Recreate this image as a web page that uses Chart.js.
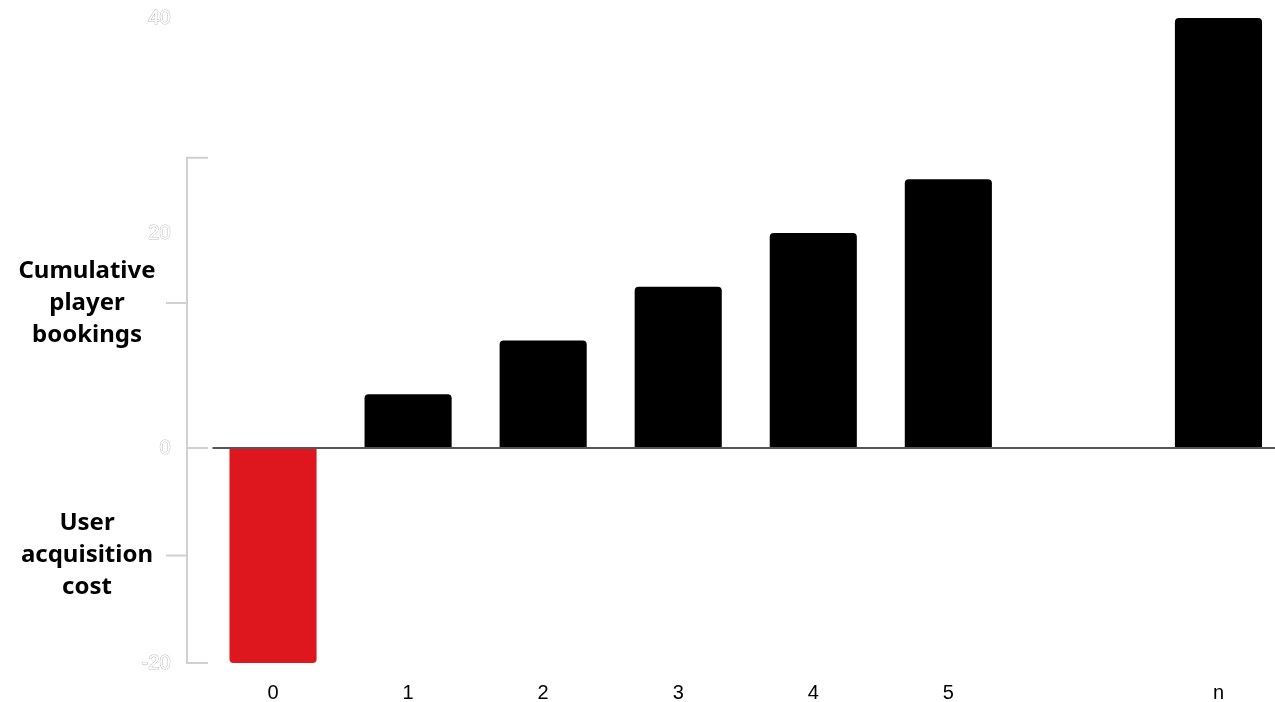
<!DOCTYPE html>
<html>
<head>
<meta charset="utf-8">
<script src="https://cdn.jsdelivr.net/npm/chart.js@4"></script>
<style>
    html, body { margin: 0; padding: 0; background: #fff; overflow: hidden; }
</style>
</head>
<body>
<canvas id="myChart" width="1286" height="702"></canvas>
<script>
// chart data
const categories = ['0', '1', '2', '3', '4', '5', '', 'n'];
const values = [-20, 5, 10, 15, 20, 25, null, 40];
const barColors = ['#dd171d', '#000000', '#000000', '#000000', '#000000', '#000000', '#000000', '#000000'];
const yMin = -20;
const yMax = 40;
const yStep = 20;

// side bracket and its labels (values on the y scale)
const bracketTop = 27;
const bracketMarks = [13.5, -10];
const sideLabels = [
    ['Cumulative', 'player', 'bookings'],
    ['User', 'acquisition', 'cost']
];

const bracketPlugin = {
    id: 'bracket',
    afterDraw(chart) {
        const ctx = chart.ctx;
        const y = chart.scales.y;
        const area = chart.chartArea;
        const bx = area.left - 18.5;
        ctx.save();
        // zero line
        ctx.strokeStyle = '#555555';
        ctx.lineWidth = 2;
        ctx.beginPath();
        ctx.moveTo(area.left + 7, y.getPixelForValue(0));
        ctx.lineTo(chart.width, y.getPixelForValue(0));
        ctx.stroke();

        // bracket
        ctx.strokeStyle = '#d0d0d0';
        ctx.lineWidth = 2;
        ctx.beginPath();
        ctx.moveTo(bx + 21, y.getPixelForValue(bracketTop));
        ctx.lineTo(bx, y.getPixelForValue(bracketTop));
        ctx.lineTo(bx, y.getPixelForValue(yMin));
        ctx.lineTo(bx + 21, y.getPixelForValue(yMin));
        ctx.moveTo(bx, y.getPixelForValue(0));
        ctx.lineTo(bx + 21, y.getPixelForValue(0));
        bracketMarks.forEach(v => {
            ctx.moveTo(bx, y.getPixelForValue(v));
            ctx.lineTo(bx - 21, y.getPixelForValue(v));
        });
        ctx.stroke();

        // labels
        ctx.fillStyle = '#000';
        ctx.font = 'bold 24px "Noto Sans", sans-serif';
        ctx.textAlign = 'center';
        ctx.textBaseline = 'middle';
        sideLabels.forEach((lines, i) => {
            const cy = y.getPixelForValue(bracketMarks[i]);
            lines.forEach((t, j) => {
                ctx.fillText(t, 87, cy + (j - 1) * 32);
            });
        });
        ctx.restore();
    }
};

const ctx = document.getElementById('myChart').getContext('2d');
const myChart = new Chart(ctx, {
    type: 'bar',
    data: {
        labels: categories,
        datasets: [{
            data: values,
            backgroundColor: barColors,
            borderRadius: 4,
            borderSkipped: 'start',
            categoryPercentage: 1,
            barPercentage: 0.645
        }]
    },
    options: {
        responsive: false,
        animation: false,
        layout: { padding: 0 },
        plugins: {
            legend: { display: false },
            tooltip: { enabled: false }
        },
        scales: {
            x: {
                grid: { display: false },
                border: { display: false },
                afterFit(scale) { scale.height = 39; },
                ticks: {
                    color: '#000',
                    padding: 10,
                    font: { family: 'Liberation Sans, Arial, sans-serif', size: 20 }
                }
            },
            y: {
                min: yMin,
                max: yMax,
                grid: { display: false, drawTicks: false },
                border: { display: false },
                afterFit(scale) {
                    scale.width = 205.5;
                    scale.paddingTop = 18;
                    scale.paddingBottom = 0;
                },
                ticks: {
                    stepSize: yStep,
                    padding: 35,
                    color: '#ffffff',
                    textStrokeColor: '#bbbbbb',
                    textStrokeWidth: 1,
                    font: { family: 'Liberation Sans, Arial, sans-serif', size: 20 }
                }
            }
        }
    },
    plugins: [bracketPlugin]
});
</script>
</body>
</html>
